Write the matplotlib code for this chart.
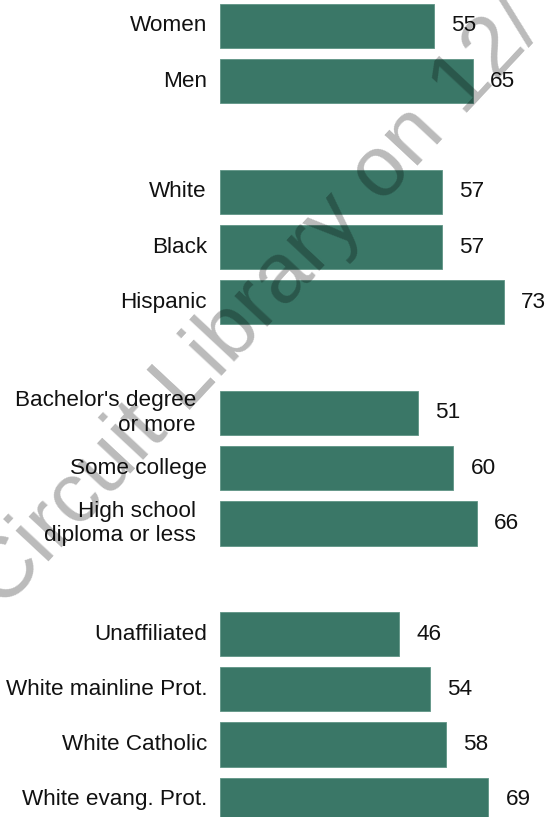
import matplotlib.pyplot as plt
import numpy as np

plt.rcParams['font.family'] = ['Liberation Sans', 'DejaVu Sans']

# data
labels = ["Women", "Men",
          "White", "Black", "Hispanic",
          "Bachelor's degree\nor more", "Some college", "High school\ndiploma or less",
          "Unaffiliated", "White mainline Prot.", "White Catholic", "White evang. Prot."]
values = [55, 65, 57, 57, 73, 51, 60, 66, 46, 54, 58, 69]
slots = [0, 1, 3, 4, 5, 7, 8, 9, 11, 12, 13, 14]

bar_color = "#3a7767"
fs = 16.2

fig = plt.figure(figsize=(5.52, 8.17), dpi=100)
ax = fig.add_axes([220 / 552, 0, 1 - 220 / 552, 1])

y = np.array(slots)
ax.barh(y, values, height=0.8, color=bar_color, edgecolor="#5e9485", linewidth=0.6)

ax.set_xlim(0, (552 - 220) / 3.89)
ax.set_ylim(14.31, -0.47)
ax.axis("off")

for yi, v, lab in zip(y, values, labels):
    ax.text(v + 4.4, yi, str(v), va="center", ha="left", fontsize=fs, color="#111111")
    if "\n" in lab:
        ax.annotate(lab, xy=(0, yi), xytext=(-24, 0), textcoords="offset pixels",
                    ha="right", va="center", fontsize=fs, color="#111111",
                    linespacing=1.2, annotation_clip=False)
    else:
        ax.annotate(lab, xy=(0, yi), xytext=(-13, 0), textcoords="offset pixels",
                    ha="right", va="center", fontsize=fs, color="#111111",
                    annotation_clip=False)

# watermark
fig.text(258 / 552, 1 - 305 / 817, "Circuit Library on 12/", fontsize=62, color="black",
         alpha=0.27, rotation=47, ha="center", va="center", rotation_mode="anchor",
         zorder=10)

fig.savefig("out.png", dpi=100)
